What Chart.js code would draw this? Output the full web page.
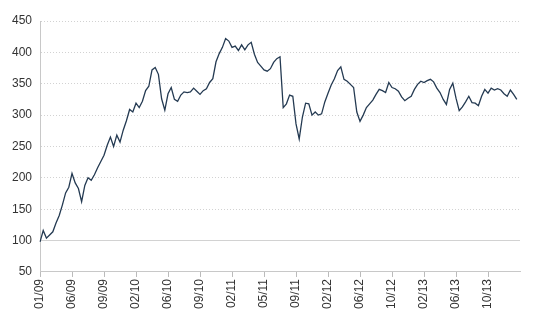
<!DOCTYPE html>
<html>
<head>
<meta charset="utf-8">
<script src="https://cdn.jsdelivr.net/npm/chart.js@4.4.1/dist/chart.umd.min.js"></script>
<style>
  html, body { margin: 0; padding: 0; background: #fff; }
  #wrap { width: 540px; height: 323px; position: relative; }
</style>
</head>
<body>
<div id="wrap"><canvas id="priceChart"></canvas></div>
<script>
// month labels shown under every 10th point
const tickLabels = ['01/09', '06/09', '09/09', '02/10', '06/10', '09/10', '02/11', '05/11',
                    '09/11', '02/12', '06/12', '10/12', '02/13', '06/13', '10/13'];
const pointsPerTick = 10;

// price series, 01/09 to end of 2013
const prices = [
  98, 116, 104, 109, 114, 128, 140, 157, 176, 185,
  207, 192, 183, 162, 188, 200, 196, 205, 216, 226,
  236, 252, 265, 250, 268, 257, 276, 291, 309, 305,
  319, 312, 322, 339, 346, 372, 376, 365, 326, 308,
  334, 344, 325, 322, 332, 337, 336, 337, 343, 338,
  333, 339, 342, 352, 358, 385, 398, 408, 422, 418,
  408, 410, 403, 412, 404, 412, 416, 397, 384, 378,
  372, 370, 374, 384, 390, 393, 312, 318, 332, 330,
  286, 262, 297, 319, 318, 300, 305, 300, 302, 321,
  335, 348, 358, 371, 377, 357, 354, 349, 344, 305,
  290, 300, 312, 318, 324, 333, 341, 339, 336, 352,
  344, 342, 338, 329, 323, 327, 330, 341, 349, 354,
  352, 355, 357, 353, 343, 336, 325, 317, 341, 351,
  327, 307, 313, 321, 330, 320, 319, 315, 330, 341,
  335, 343, 340, 342, 340, 334, 330, 340, 333, 325,
  303
];

const yTicks = [50, 100, 150, 200, 250, 300, 350, 400, 450];

const labels = prices.map((v, i) => i % pointsPerTick === 0 ? tickLabels[i / pointsPerTick] : '');

const font = { family: '"Liberation Sans", Arial, sans-serif', size: 12 };

new Chart(document.getElementById('priceChart'), {
  type: 'line',
  data: {
    labels: labels,
    datasets: [{
      data: prices,
      borderColor: '#243a52',
      borderWidth: 1.3,
      pointRadius: 0,
      tension: 0,
      fill: false
    }]
  },
  options: {
    responsive: true,
    maintainAspectRatio: false,
    animation: false,
    layout: { padding: { top: 21, right: 20, bottom: 12, left: 4 } },
    plugins: { legend: { display: false }, tooltip: { enabled: false } },
    scales: {
      x: {
        type: 'category',
        offset: false,
        afterBuildTicks: (scale) => {
          scale.ticks = scale.ticks.filter(t => t.value % pointsPerTick === 0);
        },
        ticks: {
          autoSkip: false,
          minRotation: 90,
          maxRotation: 90,
          color: '#333',
          font: font,
          padding: 2
        },
        grid: {
          drawOnChartArea: false,
          drawTicks: true,
          tickLength: 5,
          color: '#bbb'
        },
        border: { color: '#c8c8c8' }
      },
      y: {
        min: yTicks[0],
        max: yTicks[yTicks.length - 1],
        afterBuildTicks: (scale) => {
          scale.ticks = yTicks.map(v => ({ value: v }));
        },
        ticks: { color: '#333', font: font, padding: 8 },
        grid: {
          drawTicks: false,
          color: '#d2d2d2',
          lineWidth: 1
        },
        border: {
          color: '#c8c8c8',
          // 100 is drawn as a solid reference line, the rest dotted
          dash: (ctx) => (ctx.tick && (ctx.tick.value === 100 || ctx.tick.value === 50)) ? [] : [1, 2]
        }
      }
    }
  }
});
</script>
</body>
</html>
